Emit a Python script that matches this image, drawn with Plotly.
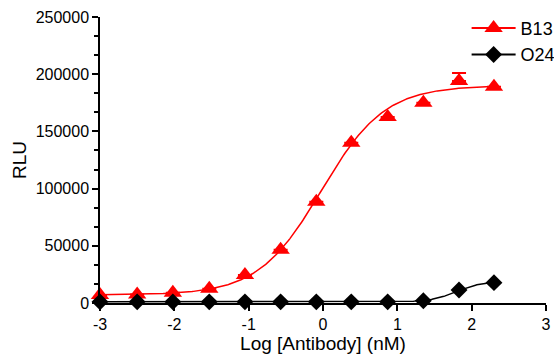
import numpy as np
import plotly.graph_objects as go

# Data
log_conc = [-3.0, -2.5, -2.02, -1.53, -1.05, -0.57, -0.09, 0.38, 0.87, 1.35, 1.83, 2.30]
b13_rlu = [7000, 7500, 9000, 12500, 24500, 46500, 88500, 140000, 162500, 175000, 194000, 189000]
b13_err = [0, 0, 0, 0, 0, 0, 0, 0, 0, 0, 7000, 0]
o24_rlu = [1000, 1000, 1000, 1000, 1000, 1000, 1000, 1000, 1000, 2000, 11300, 17800]

# Fitted 4-parameter logistic parameters (bottom, top, logEC50, hill)
b13_fit = (7000, 190000, -0.02, 1.02)
o24_fit = (1000, 19000, 1.80, 2.5)

x_ticks = [-3, -2, -1, 0, 1, 2, 3]
y_ticks = [0, 50000, 100000, 150000, 200000, 250000]


def four_pl(x, p):
    bottom, top, logec50, hill = p
    return bottom + (top - bottom) / (1 + 10 ** ((logec50 - x) * hill))


xfit = np.linspace(min(log_conc), max(log_conc), 300)

RED = "#ff0000"
BLACK = "#000000"
FONT = "Arial, Liberation Sans, sans-serif"

fig = go.Figure()

fig.add_trace(go.Scatter(x=xfit, y=four_pl(xfit, b13_fit), mode="lines",
                         line=dict(color=RED, width=1.5), showlegend=False,
                         hoverinfo="skip", cliponaxis=False))
fig.add_trace(go.Scatter(x=xfit, y=four_pl(xfit, o24_fit), mode="lines",
                         line=dict(color=BLACK, width=1.5), showlegend=False,
                         hoverinfo="skip", cliponaxis=False))

fig.add_trace(go.Scatter(x=log_conc, y=b13_rlu, mode="markers", name="B13",
                         marker=dict(symbol="triangle-up", size=16, color=RED),
                         error_y=dict(type="data", array=b13_err,
                                      arrayminus=[0] * len(b13_err),
                                      color=RED, thickness=2, width=7),
                         cliponaxis=False, showlegend=False))
fig.add_trace(go.Scatter(x=log_conc, y=o24_rlu, mode="markers", name="O24",
                         marker=dict(symbol="diamond", size=13, color=BLACK),
                         cliponaxis=False, showlegend=False))

# legend entries (line + marker)
fig.add_trace(go.Scatter(x=[None], y=[None], mode="lines+markers", name="B13",
                         line=dict(color=RED, width=2),
                         marker=dict(symbol="triangle-up", size=16, color=RED)))
fig.add_trace(go.Scatter(x=[None], y=[None], mode="lines+markers", name="O24",
                         line=dict(color=BLACK, width=2),
                         marker=dict(symbol="diamond", size=13, color=BLACK)))

fig.update_layout(
    width=554, height=360,
    margin=dict(l=100, r=8, t=17, b=57, autoexpand=False),
    paper_bgcolor="white", plot_bgcolor="white",
    font=dict(family=FONT, size=16, color="black"),
    legend=dict(x=0.822, y=1.025, xanchor="left", yanchor="top",
                bgcolor="rgba(0,0,0,0)", font=dict(size=18),
                tracegroupgap=0, itemwidth=44),
    xaxis=dict(range=[-3, 3], tickvals=x_ticks, ticktext=[str(v) for v in x_ticks],
               showgrid=False, zeroline=False, showline=True, linecolor="black",
               linewidth=1.5, ticks="outside", ticklen=6, tickwidth=1.5,
               tickcolor="black", automargin=False,
               title=dict(text="Log [Antibody] (nM)", font=dict(size=19), standoff=4)),
    yaxis=dict(range=[0, 250000], tickvals=y_ticks, ticktext=[str(v) for v in y_ticks],
               showgrid=False, zeroline=False, showline=True, linecolor="black",
               linewidth=1.5, ticks="outside", ticklen=6, tickwidth=1.5,
               tickcolor="black", automargin=False,
               minor=dict(dtick=50000 / 3, tick0=0, ticks="outside", ticklen=4,
                          tickwidth=1.5, tickcolor="black", showgrid=False),
               title=dict(text="RLU", font=dict(size=19), standoff=4)),
)

# remove the browser's default page margin so the figure sits at (0, 0)
fig.write_html("out.html",
               config={"displayModeBar": False},
               post_script="document.body.style.margin='0';"
                           "document.body.style.overflow='hidden';")
